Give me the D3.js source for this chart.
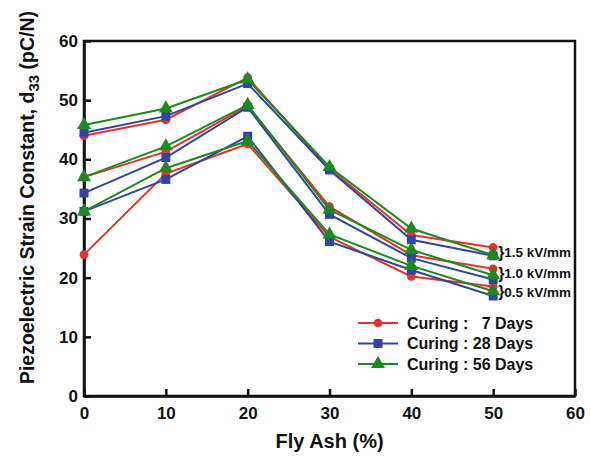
<!DOCTYPE html>
<html>
<head>
<script src="https://d3js.org/d3.v7.min.js"></script>
<style>
  body { margin: 0; background: #fff; }
  text { font-family: "Liberation Sans", Arial, sans-serif; font-weight: bold; fill: #111; }
</style>
</head>
<body>
<script>
// fly ash content (%)
var flyAsh = [0, 10, 20, 30, 40, 50];
// d33 values, per curing age and poling field
var days7_15  = [44.0, 46.7, 53.8, 38.4, 27.2, 25.1];
var days7_10  = [37.0, 41.3, 49.0, 32.0, 23.8, 21.5];
var days7_05  = [23.9, 37.6, 42.6, 26.9, 20.2, 18.5];
var days28_15 = [44.5, 47.3, 52.8, 38.2, 26.4, 23.7];
var days28_10 = [34.3, 40.3, 48.8, 30.7, 23.3, 19.7];
var days28_05 = [31.2, 36.6, 43.9, 26.1, 21.3, 16.9];
var days56_15 = [45.8, 48.6, 53.5, 38.7, 28.3, 23.8];
var days56_10 = [37.0, 42.2, 49.2, 31.5, 24.7, 20.4];
var days56_05 = [31.2, 38.5, 43.1, 27.3, 22.0, 17.7];

var curingLabels = ["Curing :   7 Days", "Curing : 28 Days", "Curing : 56 Days"];
var fieldLabels = ["1.5 kV/mm", "1.0 kV/mm", "0.5 kV/mm"];
var xTicks = [0, 10, 20, 30, 40, 50, 60];
var yTicks = [0, 10, 20, 30, 40, 50, 60];

var colors = ["#e5332a", "#2e45a6", "#1d8a1f"];
var shapes = [d3.symbolCircle, d3.symbolSquare, d3.symbolTriangle];
var symSize = [60, 80, 85];

var series = [
  [days7_15, days7_10, days7_05],
  [days28_15, days28_10, days28_05],
  [days56_15, days56_10, days56_05]
];

var width = 591, height = 457;
var margin = {top: 41, right: 16, bottom: 61, left: 84};

var svg = d3.select("body").append("svg")
  .attr("width", width)
  .attr("height", height);

var x = d3.scaleLinear().domain([0, 60]).range([margin.left, width - margin.right]);
var y = d3.scaleLinear().domain([0, 60]).range([height - margin.bottom, margin.top]);

// frame
svg.append("rect")
  .attr("x", x(0)).attr("y", y(60))
  .attr("width", x(60) - x(0)).attr("height", y(0) - y(60))
  .attr("fill", "none").attr("stroke", "#111").attr("stroke-width", 2.5);

var xAxis = svg.append("g")
  .attr("transform", "translate(0," + y(0) + ")")
  .call(d3.axisBottom(x).tickValues(xTicks).tickSizeInner(-7).tickSizeOuter(0).tickPadding(9));
var yAxis = svg.append("g")
  .attr("transform", "translate(" + x(0) + ",0)")
  .call(d3.axisLeft(y).tickValues(yTicks).tickSizeInner(-7).tickSizeOuter(0).tickPadding(6));

[xAxis, yAxis].forEach(function(g) {
  g.select(".domain").attr("stroke", "#111").attr("stroke-width", 2.5);
  g.selectAll(".tick line").attr("stroke", "#111").attr("stroke-width", 2.5);
  g.selectAll(".tick text").attr("font-size", 17).attr("font-weight", "bold")
    .attr("font-family", "Liberation Sans, Arial, sans-serif").attr("fill", "#111");
});
xAxis.selectAll(".tick text").attr("dy", "0.85em");

var line = d3.line()
  .x(function(d, i) { return x(flyAsh[i]); })
  .y(function(d) { return y(d); });

series.forEach(function(group, c) {
  group.forEach(function(vals) {
    svg.append("path")
      .datum(vals)
      .attr("d", line)
      .attr("fill", "none")
      .attr("stroke", colors[c])
      .attr("stroke-width", 2);
    svg.selectAll(null)
      .data(vals)
      .enter().append("path")
      .attr("d", d3.symbol().type(shapes[c]).size(symSize[c]))
      .attr("transform", function(d, i) { return "translate(" + x(flyAsh[i]) + "," + y(d) + ")"; })
      .attr("fill", colors[c]);
  });
});

// field labels next to the 50% points
var labelY = [24.3, 20.8, 17.6];
fieldLabels.forEach(function(t, i) {
  var ty = y(labelY[i]);
  svg.append("text")
    .attr("x", x(50) + 5)
    .attr("y", ty)
    .attr("dy", "0.35em")
    .attr("font-size", 16)
    .attr("font-weight", "normal")
    .text("}");
  svg.append("text")
    .attr("x", x(50) + 11)
    .attr("y", ty)
    .attr("dy", "0.35em")
    .attr("font-size", 13.5)
    .text(t);
});

// legend
var lg = svg.append("g");
curingLabels.forEach(function(t, i) {
  var ly = 323 + i * 20.5;
  lg.append("line")
    .attr("x1", 358).attr("x2", 398)
    .attr("y1", ly).attr("y2", ly)
    .attr("stroke", colors[i]).attr("stroke-width", 2);
  lg.append("path")
    .attr("d", d3.symbol().type(shapes[i]).size(symSize[i]))
    .attr("transform", "translate(378," + ly + ")")
    .attr("fill", colors[i]);
  lg.append("text")
    .attr("x", 407).attr("y", ly)
    .attr("dy", "0.36em")
    .attr("font-size", 16)
    .attr("xml:space", "preserve")
    .style("white-space", "pre")
    .text(t);
});

// axis titles
svg.append("text")
  .attr("x", (x(0) + x(60)) / 2)
  .attr("y", 448)
  .attr("text-anchor", "middle")
  .attr("font-size", 20)
  .text("Fly Ash (%)");

var yt = svg.append("text")
  .attr("transform", "translate(34," + ((y(0) + y(60)) / 2 - 21) + ") rotate(-90)")
  .attr("text-anchor", "middle")
  .attr("font-size", 19.5);
yt.append("tspan").text("Piezoelectric Strain Constant, d");
yt.append("tspan").attr("dy", 5).attr("font-size", 15).text("33");
yt.append("tspan").attr("dy", -5).text(" (pC/N)");
</script>
</body>
</html>
